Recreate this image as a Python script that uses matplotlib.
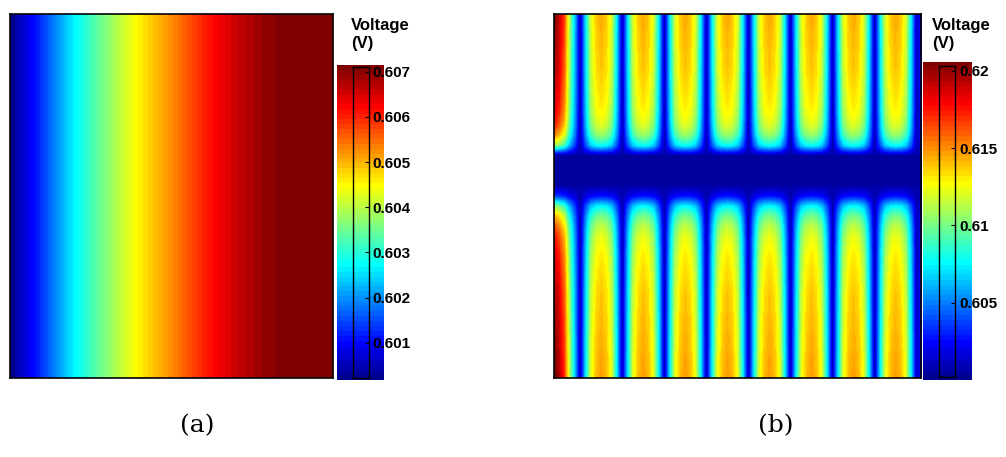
import numpy as np
import matplotlib
matplotlib.use("Agg")
import matplotlib.pyplot as plt
from matplotlib.colors import ListedColormap

W, H = 1006, 457

# --- panel (a): voltage across the cell, read at 11 evenly spaced columns (left -> right)
volt_a = [0.60020, 0.60140, 0.60270, 0.60367, 0.60456, 0.60525,
          0.60597, 0.60656, 0.60697, 0.60711, 0.60715]
clim_a = (0.60023, 0.60711)
ticks_a = [0.601, 0.602, 0.603, 0.604, 0.605, 0.606, 0.607]

# --- panel (b): finger grid
# profile across the fingers at a row in the upper half (volts)
edge_left_b = [0.61972, 0.61831, 0.61589, 0.61065, 0.60622]
finger_period_b = [0.60119, 0.60683, 0.61146, 0.61327, 0.61388, 0.61327, 0.61146, 0.60683]
n_fingers_b = 8
edge_right_b = [0.60119, 0.60300]
# profile along the centre of an inner finger, top -> bottom (volts)
along_finger_b = [0.61428, 0.61428, 0.61408, 0.61408, 0.61388, 0.61388, 0.61367, 0.61347,
                  0.61327, 0.61307, 0.61267, 0.61206, 0.61065, 0.60783,
                  0.60078, 0.60078, 0.60078, 0.60078,
                  0.60280, 0.60763, 0.61005, 0.61146, 0.61226, 0.61267, 0.61307,
                  0.61327, 0.61347, 0.61367, 0.61388, 0.61388, 0.61408, 0.61408,
                  0.61428, 0.61428, 0.61448, 0.61448, 0.61468]
ref_b = 0.61388      # finger peak on the row where the cross profile was taken
busbar_b = 0.60078   # voltage in the busbar strip
clim_b = (0.60018, 0.62032)
ticks_b = [0.605, 0.61, 0.615, 0.62]
ticklabels_b = ["0.605", "0.61", "0.615", "0.62"]


def matlab_jet(m=64):
    # same construction as MATLAB's jet(m)
    n = int(np.ceil(m / 4))
    u = np.concatenate([np.arange(1, n + 1) / n, np.ones(n - 1), np.arange(n, 0, -1) / n])
    g = int(np.ceil(n / 2)) - (1 if m % 4 == 1 else 0) + np.arange(1, len(u) + 1) - 1
    r, b = g + n, g - n
    rgb = np.zeros((m, 3))
    for col, idx in ((0, r), (1, g), (2, b)):
        ok = (idx >= 0) & (idx < m)
        rgb[idx[ok], col] = u[ok]
    return ListedColormap(rgb)


jet64 = matlab_jet(64)
plt.rcParams["font.family"] = ["Liberation Sans", "DejaVu Sans"]


def px_axes(fig, x0, y0, x1, y1, **kw):
    return fig.add_axes([x0 / W, 1 - y1 / H, (x1 - x0) / W, (y1 - y0) / H], **kw)


def colorbar(fig, strip, box, clim, ticks, labels, title_xy):
    ax_s = px_axes(fig, *strip)
    ax_s.imshow(np.arange(64)[:, None], cmap=jet64, origin="lower", aspect="auto",
                interpolation="nearest", extent=(0, 1, 0, 1))
    ax_s.set_axis_off()
    ax_c = px_axes(fig, *box)
    ax_c.patch.set_alpha(0)
    ax_c.set_ylim(*clim)
    ax_c.set_xticks([])
    ax_c.yaxis.tick_right()
    ax_c.set_yticks(ticks)
    ax_c.set_yticklabels(labels)
    ax_c.tick_params(axis="y", direction="in", length=3, width=0.8, pad=3,
                     labelsize=11, labelcolor="black")
    for lbl in ax_c.get_yticklabels():
        lbl.set_fontweight("bold")
    for s in ax_c.spines.values():
        s.set_linewidth(1.0)
    fig.text(title_xy[0] / W, 1 - title_xy[1] / H, "Voltage\n(V)", ha="left", va="top",
             fontsize=12, fontweight="bold", linespacing=1.25)


fig = plt.figure(figsize=(W / 100, H / 100), dpi=100)

# (a)
ax_a = px_axes(fig, 10, 14, 333, 378)
ax_a.imshow(np.array(volt_a)[None, :], cmap=jet64, vmin=clim_a[0], vmax=clim_a[1],
            aspect="auto", interpolation="bilinear", interpolation_stage="data",
            extent=(-0.5, len(volt_a) - 0.5, 0, 1))
ax_a.set_xlim(0, len(volt_a) - 1)
ax_a.set_ylim(0, 1)
ax_a.set_xticks([])
ax_a.set_yticks([])
for s in ax_a.spines.values():
    s.set_linewidth(1.2)
colorbar(fig, (337, 65, 383, 380), (353.3, 66.7, 368.7, 377.7), clim_a, ticks_a,
         [f"{t:.3f}" for t in ticks_a], (351, 18))

# (b)
cross_b = np.array(edge_left_b + finger_period_b * n_fingers_b + edge_right_b)
along_b = np.array(along_finger_b)
field_b = busbar_b + np.outer(along_b - busbar_b, cross_b - busbar_b) / (ref_b - busbar_b)
nx, ny = len(cross_b), len(along_b)
ax_b = px_axes(fig, 554, 14, 921, 378)
ax_b.imshow(field_b, cmap=jet64, vmin=clim_b[0], vmax=clim_b[1], aspect="auto",
            interpolation="bilinear", interpolation_stage="data", origin="upper",
            extent=(-0.5, nx - 0.5, ny - 0.5, -0.5))
ax_b.set_xlim(0, nx - 1)
ax_b.set_ylim(ny - 1, 0)
ax_b.set_xticks([])
ax_b.set_yticks([])
for s in ax_b.spines.values():
    s.set_linewidth(1.2)
colorbar(fig, (922.7, 61.7, 971.7, 380), (939.3, 65.7, 955, 377.3), clim_b, ticks_b,
         ticklabels_b, (932, 18))

fig.text(197 / W, 1 - 426 / H, "(a)", ha="center", va="center", fontsize=18,
         family="DejaVu Serif")
fig.text(776 / W, 1 - 426 / H, "(b)", ha="center", va="center", fontsize=18,
         family="DejaVu Serif")

fig.savefig("out.png", dpi=100)
